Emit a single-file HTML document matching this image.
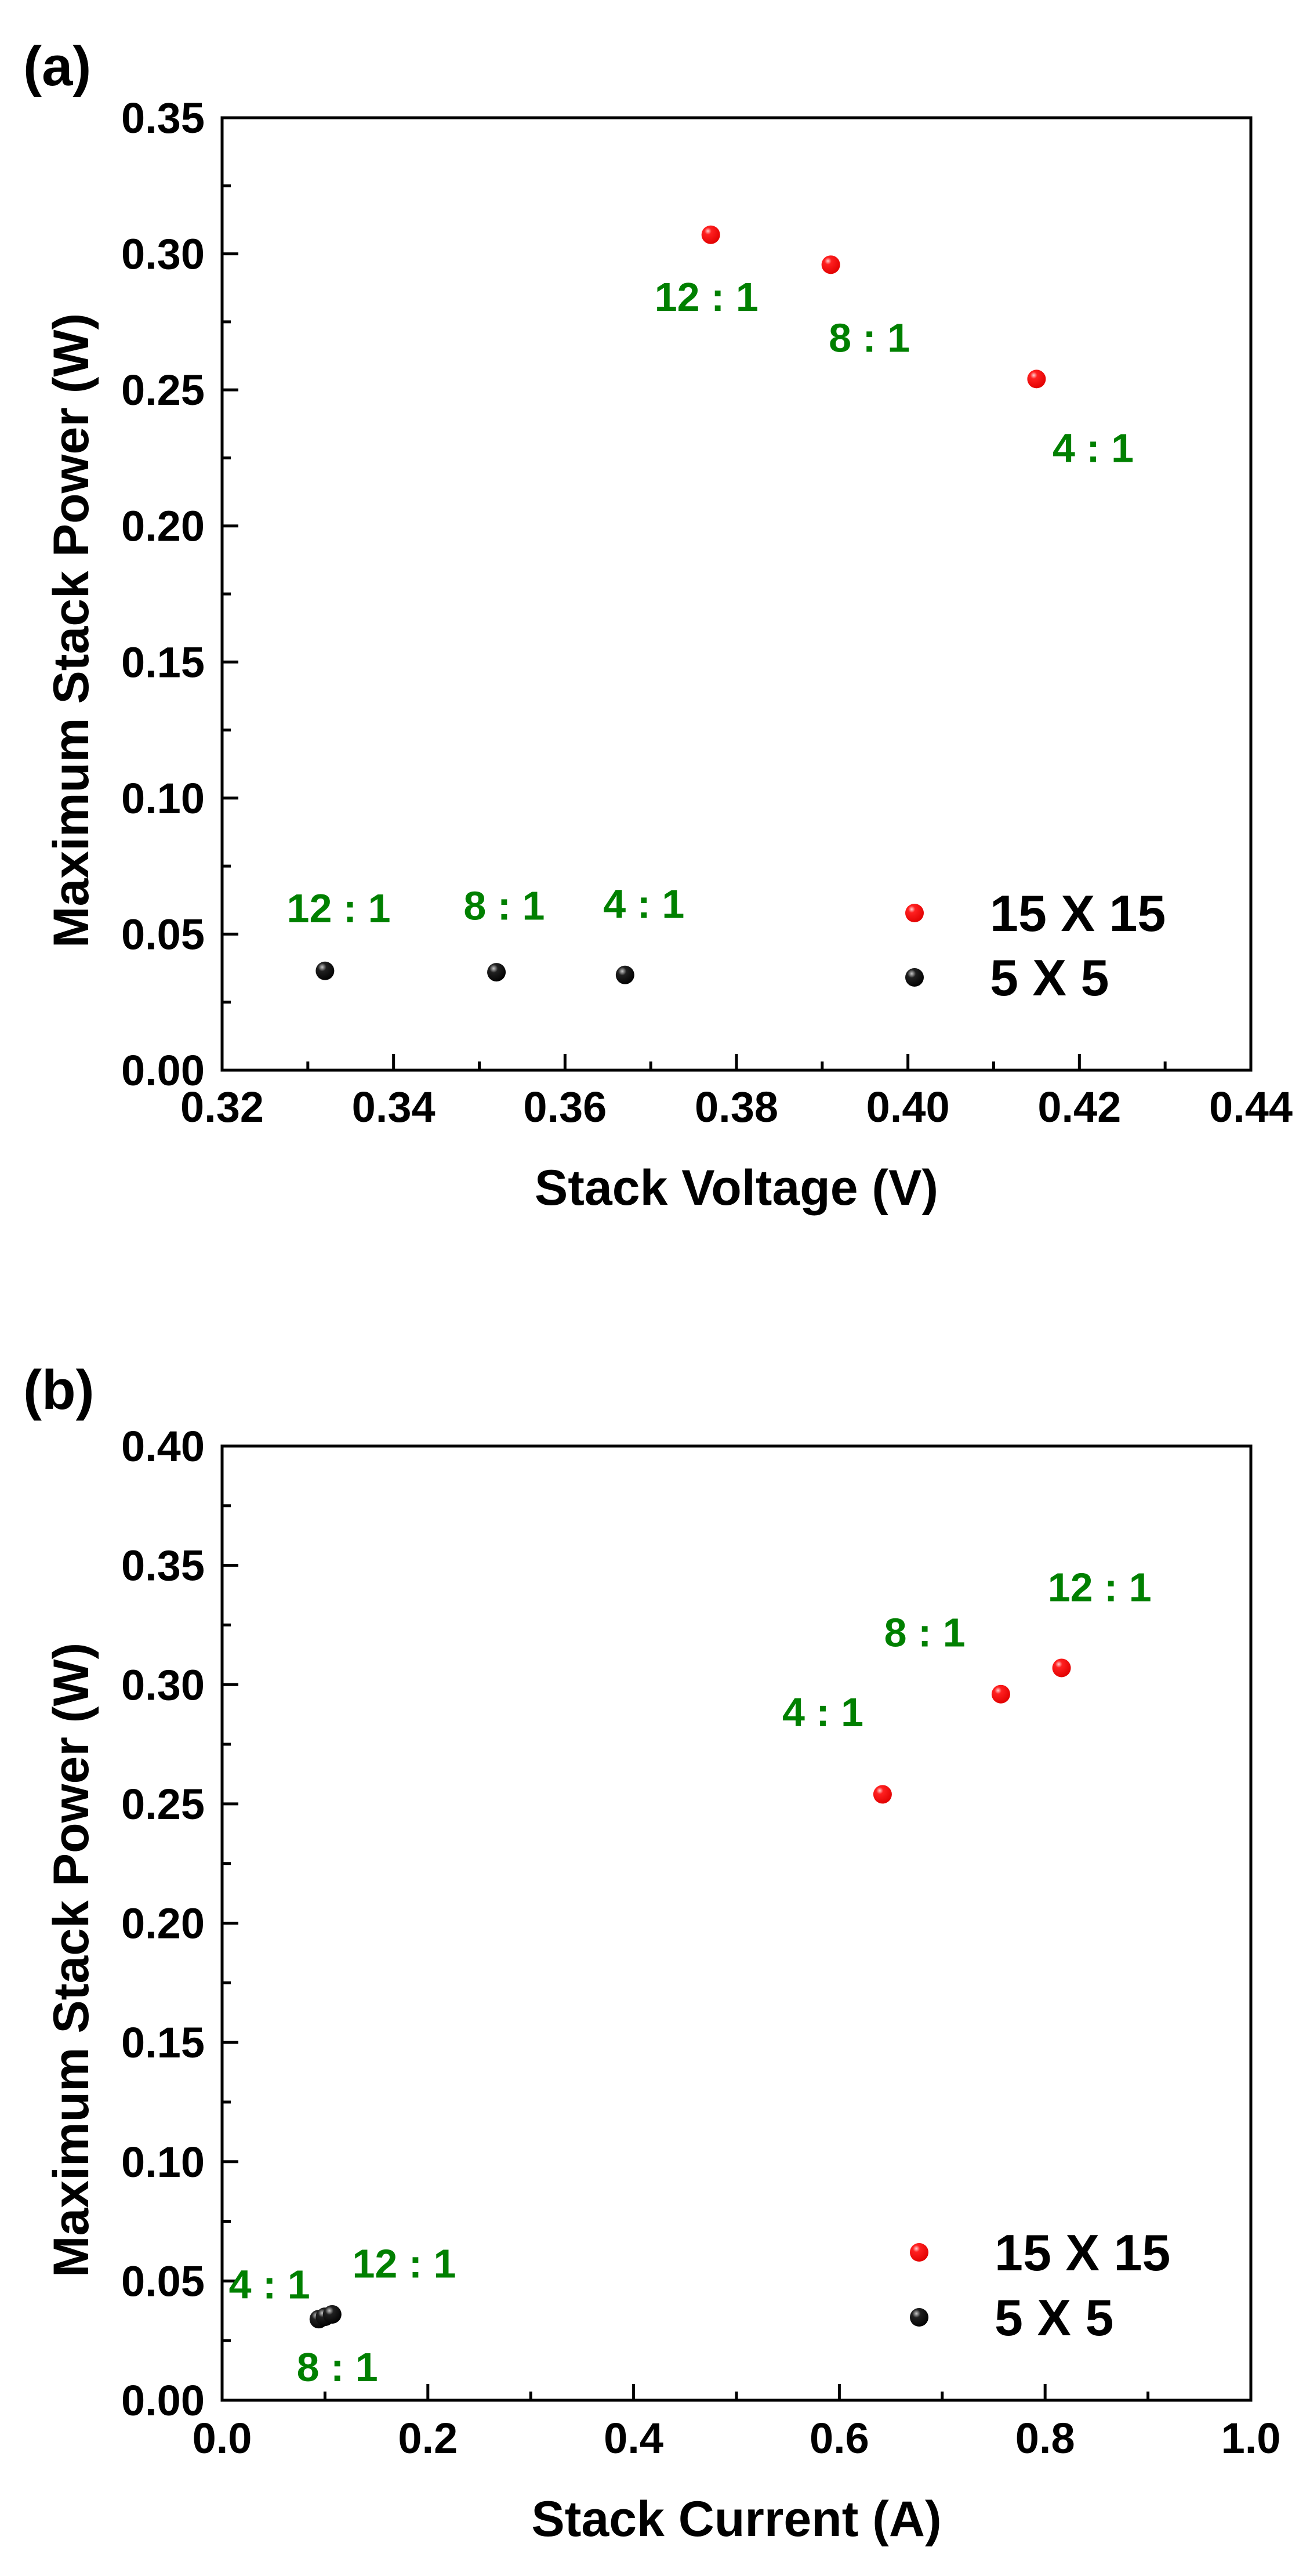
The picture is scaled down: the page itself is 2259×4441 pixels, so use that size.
<!DOCTYPE html>
<html><head><meta charset="utf-8">
<style>
html,body{margin:0;padding:0;background:#fff;}
svg{display:block;}
text{font-family:"Liberation Sans",Arial,sans-serif;font-weight:bold;}
</style></head>
<body>
<svg id="fig" width="2259" height="4441" viewBox="0 0 2259 4441" xmlns="http://www.w3.org/2000/svg">
<defs>
<radialGradient id="gRed" cx="0.35" cy="0.3" r="0.75">
<stop offset="0" stop-color="#ffd0d0"/><stop offset="0.25" stop-color="#ff2020"/><stop offset="1" stop-color="#e00000"/>
</radialGradient>
<radialGradient id="gBlack" cx="0.35" cy="0.3" r="0.75">
<stop offset="0" stop-color="#c8c8c8"/><stop offset="0.3" stop-color="#202020"/><stop offset="1" stop-color="#000"/>
</radialGradient>
</defs>
</svg>
<script>
// ---- Panel (a) data ----
const aRedX = [0.377, 0.391, 0.415];
const aRedY = [0.307, 0.296, 0.254];
const aBlackX = [0.332, 0.352, 0.367];
const aBlackY = [0.0365, 0.036, 0.035];
const aXTicks = [0.32, 0.34, 0.36, 0.38, 0.40, 0.42, 0.44];
const aYTicks = [0.00, 0.05, 0.10, 0.15, 0.20, 0.25, 0.30, 0.35];
const aAnnText = ["12 : 1", "8 : 1", "4 : 1", "12 : 1", "8 : 1", "4 : 1"];
const aAnnX = [0.3765, 0.3955, 0.4216, 0.3336, 0.3529, 0.3692];
const aAnnY = [0.279, 0.264, 0.2235, 0.0544, 0.0553, 0.056];
// ---- Panel (b) data ----
const bRedX = [0.642, 0.757, 0.816];
const bRedY = [0.254, 0.296, 0.307];
const bBlackX = [0.094, 0.100, 0.107];
const bBlackY = [0.034, 0.035, 0.036];
const bXTicks = [0.0, 0.2, 0.4, 0.6, 0.8, 1.0];
const bYTicks = [0.00, 0.05, 0.10, 0.15, 0.20, 0.25, 0.30, 0.35, 0.40];
const bAnnText = ["4 : 1", "8 : 1", "12 : 1", "4 : 1", "12 : 1", "8 : 1"];
const bAnnX = [0.584, 0.683, 0.853, 0.046, 0.177, 0.112];
const bAnnY = [0.2825, 0.316, 0.335, 0.0427, 0.0514, 0.008];

const NS = "http://www.w3.org/2000/svg";
const svg = document.getElementById('fig');
function mk(tag, attrs, parent, txt) {
  const e = document.createElementNS(NS, tag);
  for (const k in attrs) e.setAttribute(k, attrs[k]);
  if (txt !== undefined) e.textContent = txt;
  (parent || svg).appendChild(e);
  return e;
}

function panel(o) {
  const g = mk('g', {});
  
  
  const L = 383, R = 2157, T = o.top, B = o.bottom;
  const sx = v => L + (v - o.xmin) / (o.xmax - o.xmin) * (R - L);
  const sy = v => B - (v - o.ymin) / (o.ymax - o.ymin) * (B - T);
  // panel label
  const pl = mk('text', {x: 40, y: o.labelY, 'font-size': 96, fill: '#000'}, g, o.label);
  
  
  // frame
  const fr = mk('rect', {x: L, y: T, width: R - L, height: B - T, fill: 'none', stroke: '#000', 'stroke-width': 5}, g);
  
  
  // x ticks
  const xt = o.xTicks;
  for (let i = 0; i < xt.length; i++) {
    const x = sx(xt[i]);
    const t = mk('line', {x1: x, y1: B, x2: x, y2: B - 28, stroke: '#000', 'stroke-width': 5}, g);
    
    
    const lb = mk('text', {x: x, y: o.xLabelY, 'font-size': 74, 'text-anchor': 'middle', fill: '#000'}, g, xt[i].toFixed(o.xDec));
    
    
    if (i < xt.length - 1) {
      const mx = sx((xt[i] + xt[i + 1]) / 2);
      const m = mk('line', {x1: mx, y1: B, x2: mx, y2: B - 15, stroke: '#000', 'stroke-width': 5}, g);
      
      
    }
  }
  // y ticks
  const yt = o.yTicks;
  for (let i = 0; i < yt.length; i++) {
    const y = sy(yt[i]);
    const t = mk('line', {x1: L, y1: y, x2: L + 28, y2: y, stroke: '#000', 'stroke-width': 5}, g);
    
    
    const lb = mk('text', {x: 353, y: y + 26, 'font-size': 74, 'text-anchor': 'end', fill: '#000'}, g, yt[i].toFixed(2));
    
    
    if (i < yt.length - 1) {
      const my = sy((yt[i] + yt[i + 1]) / 2);
      const m = mk('line', {x1: L, y1: my, x2: L + 15, y2: my, stroke: '#000', 'stroke-width': 5}, g);
      
      
    }
  }
  // axis titles
  const xtl = mk('text', {x: (L + R) / 2, y: o.xTitleY, 'font-size': 86, 'text-anchor': 'middle', fill: '#000'}, g, o.xTitle);
  
  
  const ytl = mk('text', {x: 0, y: 0, 'font-size': 86, 'text-anchor': 'middle', fill: '#000', transform: `translate(152,${o.yTitleC}) rotate(-90)`}, g, 'Maximum Stack Power (W)');
  
  
  // points
  for (let i = 0; i < o.rx.length; i++) {
    const c = mk('circle', {cx: sx(o.rx[i]), cy: sy(o.ry[i]), r: 16, fill: 'url(#gRed)'}, g);
    
    
  }
  for (let i = 0; i < o.kx.length; i++) {
    const c = mk('circle', {cx: sx(o.kx[i]), cy: sy(o.ky[i]), r: 16, fill: 'url(#gBlack)'}, g);
    
    
  }
  // annotations
  for (let i = 0; i < o.annT.length; i++) {
    const a = mk('text', {x: sx(o.annX[i]), y: sy(o.annY[i]), 'font-size': 70, 'text-anchor': 'middle', fill: '#008000'}, g, o.annT[i]);
    
    
  }
  // legend
  const lg = mk('g', {}, g);
  
  
  const d1 = mk('circle', {cx: o.legX, cy: o.legY1, r: 16, fill: 'url(#gRed)'}, lg);
  
  
  const t1 = mk('text', {x: o.legX + 130, y: o.legY1 + 31, 'font-size': 88, fill: '#000'}, lg, '15 X 15');
  
  
  const d2 = mk('circle', {cx: o.legX, cy: o.legY2, r: 16, fill: 'url(#gBlack)'}, lg);
  
  
  const t2 = mk('text', {x: o.legX + 130, y: o.legY2 + 31, 'font-size': 88, fill: '#000'}, lg, '5 X 5');
  
  
}

panel({name: 'panel-a-voltage', label: '(a)', labelY: 147, top: 203, bottom: 1845,
  xmin: 0.32, xmax: 0.44, ymin: 0, ymax: 0.35, xTicks: aXTicks, yTicks: aYTicks, xDec: 2,
  xLabelY: 1934, xTitleY: 2077, xTitle: 'Stack Voltage (V)', yTitleC: 1087,
  rx: aRedX, ry: aRedY, kx: aBlackX, ky: aBlackY,
  annT: aAnnText, annX: aAnnX, annY: aAnnY, legX: 1577, legY1: 1574, legY2: 1685});

panel({name: 'panel-b-current', label: '(b)', labelY: 2429, top: 2493, bottom: 4138,
  xmin: 0, xmax: 1, ymin: 0, ymax: 0.40, xTicks: bXTicks, yTicks: bYTicks, xDec: 1,
  xLabelY: 4229, xTitleY: 4372, xTitle: 'Stack Current (A)', yTitleC: 3379,
  rx: bRedX, ry: bRedY, kx: bBlackX, ky: bBlackY,
  annT: bAnnText, annX: bAnnX, annY: bAnnY, legX: 1585, legY1: 3883, legY2: 3995});
</script>
</body></html>
